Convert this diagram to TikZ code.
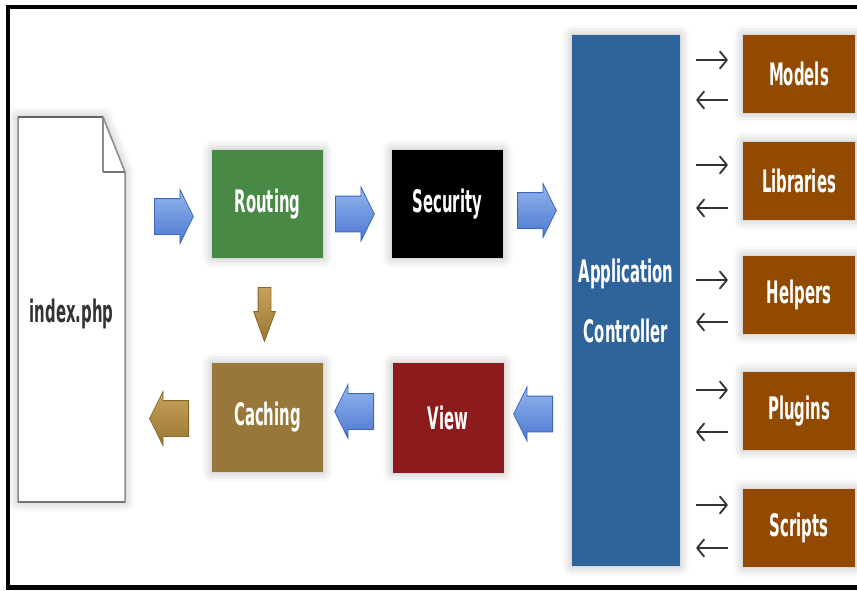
\documentclass[tikz,border=0pt]{standalone}
\usepackage{fontspec}
\newfontfamily\labelfont[FakeStretch=0.48]{DejaVu Sans}
\usetikzlibrary{shapes.arrows,shadows.blur,arrows.meta}

\definecolor{routegreen}{HTML}{488A45}
\definecolor{appblue}{HTML}{2E6499}
\definecolor{partbrown}{HTML}{924A00}
\definecolor{cachebrown}{HTML}{97773A}
\definecolor{viewred}{HTML}{8D1B1B}
\definecolor{arrowtop}{HTML}{93B6EE}
\definecolor{arrowbot}{HTML}{4C78CF}
\definecolor{arrowrim}{HTML}{3F66BE}
\definecolor{goldtop}{HTML}{C6A25C}
\definecolor{goldbot}{HTML}{9A7634}
\definecolor{goldrim}{HTML}{86672A}
\definecolor{docrim}{HTML}{8C8C8C}

\tikzset{
  softshadow/.style={blur shadow={shadow xshift=0pt, shadow yshift=0pt,
      shadow blur radius=10pt, shadow opacity=30}},
  labeltext/.style={font=\labelfont\bfseries\fontsize{31}{60}\selectfont},
  stage/.style={rectangle, inner sep=0pt, minimum width=111pt,
      minimum height=108pt, text=white, labeltext, softshadow},
  part/.style={rectangle, inner sep=0pt, minimum width=112pt,
      minimum height=78pt, fill=partbrown, text=white, labeltext, softshadow},
  flow/.style={single arrow, inner xsep=0pt, inner ysep=17.5pt,
      minimum height=39pt, single arrow head extend=9pt,
      single arrow tip angle=127, line width=0.8pt, anchor=tail},
  blueflow/.style={flow, draw=arrowrim, top color=arrowtop, bottom color=arrowbot},
  goldflow/.style={flow, draw=goldrim, top color=goldtop, bottom color=goldbot},
  call/.style={line width=1.8pt, draw=black!80,
      -{Straight Barb[length=7pt,width=17pt,line width=1.8pt,round]}},
}

\begin{document}
\begin{tikzpicture}[x=1pt,y=-1pt]
  \useasboundingbox (0,0) rectangle (857,590);

  % outer frame (the right side runs off the page)
  \draw[line width=4.5pt] (858,7) -- (8,7) -- (8,587.5) -- (858,587.5);

  % the entry script: a page with a folded corner
  \path[fill=white, softshadow]
    (18,117) -- (103,117) -- (125,172) -- (125,502) -- (18,502) -- cycle;
  \draw[docrim, line width=1.5pt, line join=round]
    (18,117) -- (103,117) -- (125,172) -- (125,502) -- (18,502) -- cycle;
  \draw[black!60, line width=1.6pt] (18,117) -- (103,117);
  \draw[docrim, line width=1.5pt] (103,117) -- (103,172);
  \draw[black!55, line width=2.6pt] (103,172) -- (125,172);
  \draw[black!55, line width=2.6pt] (18,502) -- (125,502);
  \node[labeltext, text=black!80, minimum width=107pt, minimum height=385pt,
        inner sep=0pt] (doc) at (71.5,314) {index.php};

  % request pipeline
  \node[stage, fill=routegreen] (routing)  at (267.5,204) {Routing};
  \node[stage, fill=black]      (security) at (447.5,204) {Security};
  \node[stage, fill=cachebrown, minimum height=109pt] (caching) at (267.5,417.5) {Caching};
  \node[stage, fill=viewred, minimum height=110pt]    (view)    at (448,418) {View};

  % application controller
  \node[rectangle, inner sep=0pt, minimum width=108pt, minimum height=531pt,
        fill=appblue, text=white, labeltext, align=center, softshadow]
        (app) at (626,300.5) {Application\\Controller};

  % components used by the controller
  \node[part] (models)    at (799,74)  {Models};
  \node[part] (libraries) at (799,181) {Libraries};
  \node[part] (helpers)   at (799,295) {Helpers};
  \node[part] (plugins)   at (799,411) {Plugins};
  \node[part] (scripts)   at (799,528) {Scripts};

  % flow arrows between the stages, placed by their tails
  \node[blueflow] (a1) at (154,216.5) {};
  \node[blueflow] (a2) at (335,214) {};
  \node[blueflow] (a3) at (517,210.5) {};
  \node[blueflow, shape border rotate=180] (a4) at (553,414) {};
  \node[blueflow, shape border rotate=180] (a5) at (374,411.5) {};
  \node[goldflow, shape border rotate=180] (a6) at (189,418.5) {};
  \node[goldflow, minimum height=54pt, inner ysep=6pt,
        single arrow head extend=4.5pt, single arrow tip angle=40,
        rotate=-90] (a7) at (264.5,287) {};

  % calls between controller and components
  \foreach \comp/\up/\down in {models/14/-26, libraries/16/-27, helpers/15/-27,
                               plugins/21/-21, scripts/23/-20} {
    \draw[call, shorten <=16pt, shorten >=15pt]
      ([yshift=\up pt]app.east |- \comp.west) -- ([yshift=\up pt]\comp.west);
    \draw[call, shorten <=15pt, shorten >=16pt]
      ([yshift=\down pt]\comp.west) -- ([yshift=\down pt]app.east |- \comp.west);
  }
\end{tikzpicture}
\end{document}
